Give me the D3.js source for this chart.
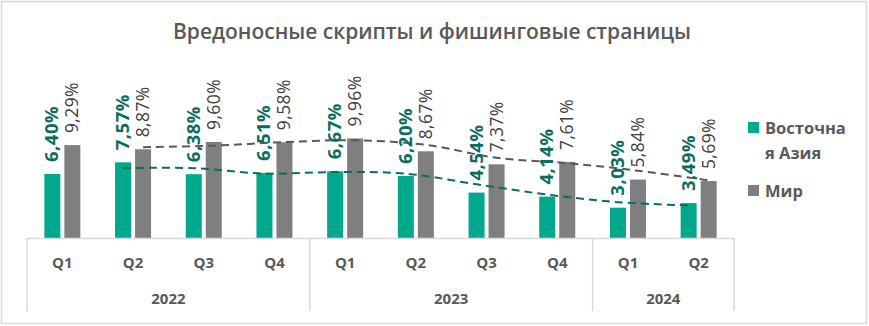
<!DOCTYPE html>
<html>
<head>
<meta charset="utf-8">
<script src="https://cdn.jsdelivr.net/npm/d3@7"></script>
<style>
  html, body { margin: 0; padding: 0; background: #fff; }
  svg { display: block; font-family: "Open Sans", "Liberation Sans", sans-serif; }
</style>
</head>
<body>
<svg id="chart" width="869" height="326"></svg>
<script>
// Share of users hit by malicious scripts and phishing pages, by quarter
const quarters = ["Q1", "Q2", "Q3", "Q4", "Q1", "Q2", "Q3", "Q4", "Q1", "Q2"];
const years = [
  { label: "2022", count: 4 },
  { label: "2023", count: 4 },
  { label: "2024", count: 2 }
];
const eastAsia = [6.40, 7.57, 6.38, 6.51, 6.67, 6.20, 4.54, 4.14, 3.03, 3.49];
const world = [9.29, 8.87, 9.60, 9.58, 9.96, 8.67, 7.37, 7.61, 5.84, 5.69];
const seriesNames = ["Восточная Азия", "Мир"];
const title = "Вредоносные скрипты и фишинговые страницы";

const teal = "#00A88E", tealDark = "#0B6E5C";
const gray = "#7F7F7F", grayDark = "#595959";
const textGray = "#595959", axisGray = "#D9D9D9";

const svg = d3.select("#chart");
const W = 869, H = 326;

// chart frame
svg.append("rect")
  .attr("x", 1.5).attr("y", 1.5)
  .attr("width", W - 4).attr("height", H - 4)
  .attr("fill", "#fff").attr("stroke", axisGray).attr("stroke-width", 1.5);

svg.append("text")
  .attr("x", 432).attr("y", 39)
  .attr("text-anchor", "middle")
  .attr("fill", textGray)
  .attr("font-size", 21).attr("font-weight", 600)
  .text(title);

const plotLeft = 27, plotRight = 734, baseY = 238;

const x = d3.scaleBand()
  .domain(d3.range(quarters.length))
  .range([plotLeft, plotRight])
  .paddingInner(0).paddingOuter(0);

const y = d3.scaleLinear().domain([0, 20]).range([baseY, baseY - 200]);

const barW = 16, gapW = 4;
const tealX = i => x(i) + x.bandwidth() / 2 - gapW / 2 - barW;
const grayX = i => x(i) + x.bandwidth() / 2 + gapW / 2;

const g = svg.append("g");

// bars
g.selectAll("rect.ea").data(eastAsia).join("rect")
  .attr("class", "ea")
  .attr("x", (d, i) => tealX(i))
  .attr("y", d => y(d))
  .attr("width", barW)
  .attr("height", d => baseY - y(d))
  .attr("fill", teal);

g.selectAll("rect.w").data(world).join("rect")
  .attr("class", "w")
  .attr("x", (d, i) => grayX(i))
  .attr("y", d => y(d))
  .attr("width", barW)
  .attr("height", d => baseY - y(d))
  .attr("fill", gray);

// two-period moving-average trend lines
function movingAvg(vals) {
  const out = [];
  for (let i = 1; i < vals.length; i++) out.push({ i, v: (vals[i - 1] + vals[i]) / 2 });
  return out;
}
const line = off => d3.line()
  .x(d => off(d.i) + barW / 2)
  .y(d => y(d.v))
  .curve(d3.curveCardinal.tension(0));

g.append("path")
  .attr("d", line(grayX)(movingAvg(world)))
  .attr("fill", "none").attr("stroke", grayDark)
  .attr("stroke-width", 2).attr("stroke-dasharray", "8,5");

g.append("path")
  .attr("d", line(tealX)(movingAvg(eastAsia)))
  .attr("fill", "none").attr("stroke", tealDark)
  .attr("stroke-width", 2).attr("stroke-dasharray", "8,5");

// value labels
const fmt = v => v.toFixed(2).replace(".", ",") + "%";

g.selectAll("text.ea").data(eastAsia).join("text")
  .attr("class", "ea")
  .attr("transform", (d, i) => `translate(${tealX(i) + barW / 2 + 6},${y(d) - 12}) rotate(-90)`)
  .attr("fill", tealDark)
  .attr("font-size", 18.5).attr("font-weight", 700)
  .attr("letter-spacing", 0.5)
  .text(fmt);

g.selectAll("text.w").data(world).join("text")
  .attr("class", "w")
  .attr("transform", (d, i) => `translate(${grayX(i) + barW / 2 + 6},${y(d) - 12}) rotate(-90)`)
  .attr("fill", "#404040")
  .attr("font-size", 17.5)
  .attr("letter-spacing", 0.4)
  .text(fmt);

// category axis
const axis = svg.append("g");
axis.append("line")
  .attr("x1", plotLeft).attr("x2", plotRight)
  .attr("y1", baseY + 0.5).attr("y2", baseY + 0.5)
  .attr("stroke", axisGray).attr("stroke-width", 1.5);

axis.selectAll("text.q").data(quarters).join("text")
  .attr("class", "q")
  .attr("x", (d, i) => x(i) + x.bandwidth() / 2)
  .attr("y", 268)
  .attr("text-anchor", "middle")
  .attr("fill", textGray)
  .attr("font-size", 15).attr("font-weight", 700)
  .text(d => d);

let start = 0;
const seps = [0];
years.forEach(yr => {
  const a = x(start), b = x(start + yr.count - 1) + x.bandwidth();
  axis.append("text")
    .attr("x", (a + b) / 2).attr("y", 304)
    .attr("text-anchor", "middle")
    .attr("fill", textGray)
    .attr("font-size", 15).attr("font-weight", 700)
    .text(yr.label);
  start += yr.count;
  seps.push(start);
});
axis.selectAll("line.sep").data(seps).join("line")
  .attr("class", "sep")
  .attr("x1", d => d < quarters.length ? x(d) : plotRight)
  .attr("x2", d => d < quarters.length ? x(d) : plotRight)
  .attr("y1", baseY).attr("y2", 311)
  .attr("stroke", axisGray).attr("stroke-width", 1.5);

// legend
const lg = svg.append("g");
lg.append("rect").attr("x", 748).attr("y", 122).attr("width", 11).attr("height", 11).attr("fill", teal);
lg.append("text").attr("x", 765).attr("y", 134)
  .attr("fill", textGray).attr("font-size", 16.5).attr("font-weight", 700)
  .text(seriesNames[0].slice(0, 8));
lg.append("text").attr("x", 765).attr("y", 159)
  .attr("fill", textGray).attr("font-size", 16.5).attr("font-weight", 700)
  .text(seriesNames[0].slice(8));
lg.append("rect").attr("x", 748).attr("y", 185).attr("width", 11).attr("height", 11).attr("fill", gray);
lg.append("text").attr("x", 765).attr("y", 197)
  .attr("fill", textGray).attr("font-size", 16.5).attr("font-weight", 700)
  .text(seriesNames[1]);
</script>
</body>
</html>
